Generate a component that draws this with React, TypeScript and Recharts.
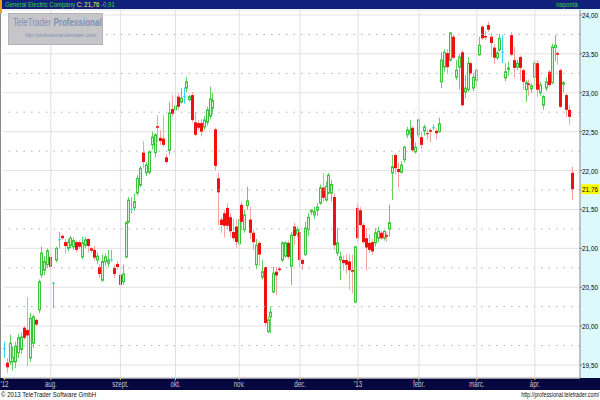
import React from 'react';
import {
  Bar,
  CartesianGrid,
  ComposedChart,
  ReferenceLine,
  XAxis,
  YAxis,
} from 'recharts';

// Daily OHLC, General Electric, Jul 2012 - Apr 2013
const opens = [
  19.71, 19.53, 19.54, 19.54, 19.54, 19.66, 19.7, 19.98, 19.95, 19.59,
  19.78, 20.08, 20.21, 20.66, 20.72, 20.79, 20.89, 20.55, 20.85, 21.11,
  21.16, 21.08, 21.0, 21.04, 21.02, 21.08, 21.08, 20.89, 21.04, 21.12,
  21.0, 20.98, 20.85, 20.76, 20.59, 20.83, 20.81, 20.85, 20.75, 20.8,
  20.66, 20.57, 20.89, 21.34, 21.5, 21.52, 21.71, 21.81, 22.23, 21.97,
  21.98, 22.33, 22.23, 22.57, 22.42, 22.41, 22.17, 22.26, 22.79, 22.78,
  22.95, 22.88, 22.95, 23.06, 22.91, 22.97, 22.62, 22.61, 22.61, 22.56,
  22.62, 22.7, 22.8, 22.53, 21.9, 21.37, 21.45, 21.52, 21.4, 21.21,
  21.28, 21.06, 21.56, 21.24, 21.55, 21.37, 21.2, 20.79, 21.07, 20.63,
  20.76, 19.93, 20.12, 20.44, 20.7, 20.74, 20.85, 20.9, 21.07, 20.77,
  21.28, 21.19, 21.21, 20.85, 20.92, 21.24, 21.47, 21.43, 21.49, 21.58,
  21.78, 21.62, 21.71, 21.71, 21.66, 20.94, 20.85, 20.85, 20.85, 20.83,
  20.72, 20.31, 21.52, 21.49, 21.3, 21.13, 21.07, 21.08, 21.07, 21.13,
  21.2, 21.13, 21.17, 21.25, 21.97, 22.2, 22.02, 21.98, 22.14, 22.46,
  22.48, 22.55, 22.24, 22.46, 22.43, 22.51, 22.48, 22.52, 22.55, 22.51,
  22.5, 23.14, 23.33, 23.51, 23.42, 23.72, 23.2, 23.33, 23.52, 23.01,
  23.04, 23.38, 23.06, 23.16, 23.49, 23.85, 23.73, 23.87, 23.72, 23.58,
  23.45, 23.55, 23.52, 23.19, 23.3, 23.74, 23.42, 23.33, 23.46, 23.29,
  23.04, 23.12, 23.05, 23.2, 23.38, 23.0, 22.84, 23.06, 23.27, 23.13,
  23.58, 23.51, 23.29, 23.11, 22.97, 22.78, 21.97,
];

const highs = [
  19.8, 19.59, 19.89, 19.74, 19.8, 19.9, 19.92, 20.0, 20.37, 20.17,
  20.15, 20.1, 20.6, 21.02, 20.9, 21.0, 20.93, 20.57, 21.02, 21.21,
  21.18, 21.12, 21.12, 21.16, 21.14, 21.1, 21.1, 21.15, 21.14, 21.13,
  21.02, 21.03, 20.95, 20.8, 20.92, 20.93, 20.98, 20.98, 20.79, 20.84,
  20.7, 20.79, 21.35, 21.66, 21.66, 21.7, 21.94, 22.06, 22.38, 22.11,
  22.26, 22.5, 22.48, 22.71, 22.52, 22.71, 22.21, 22.88, 22.97, 23.01,
  22.99, 23.06, 23.07, 23.2, 22.97, 23.01, 22.75, 22.65, 22.66, 22.7,
  22.82, 23.08, 23.0, 22.55, 21.97, 21.4, 21.49, 21.58, 21.45, 21.38,
  21.37, 21.41, 21.6, 21.5, 21.79, 21.54, 21.24, 21.12, 21.09, 20.85,
  20.76, 20.12, 20.25, 20.76, 20.76, 20.76, 21.09, 21.09, 21.1, 21.21,
  21.33, 21.28, 21.26, 20.87, 21.34, 21.45, 21.5, 21.53, 21.58, 21.82,
  21.97, 21.86, 21.97, 21.88, 21.71, 21.26, 20.95, 20.91, 20.93, 20.92,
  20.92, 21.02, 21.58, 21.53, 21.33, 21.26, 21.18, 21.12, 21.26, 21.28,
  21.22, 21.23, 21.2, 21.56, 22.2, 22.22, 22.1, 22.12, 22.32, 22.56,
  22.65, 22.57, 22.36, 22.67, 22.5, 22.59, 22.52, 22.54, 22.59, 22.54,
  22.68, 23.52, 23.56, 23.56, 23.78, 23.75, 23.42, 23.5, 23.55, 23.23,
  23.46, 23.4, 23.25, 23.31, 23.72, 23.87, 23.8, 23.91, 23.77, 23.63,
  23.54, 23.76, 23.74, 23.38, 23.4, 23.78, 23.59, 23.42, 23.48, 23.31,
  23.16, 23.17, 23.12, 23.42, 23.42, 23.14, 22.97, 23.2, 23.29, 23.63,
  23.74, 23.53, 23.31, 23.15, 22.99, 22.84, 22.05,
];

const lows = [
  19.59, 19.4, 19.5, 19.43, 19.46, 19.59, 19.64, 19.82, 19.48, 19.54,
  19.72, 20.0, 20.17, 20.62, 20.65, 20.75, 20.72, 20.23, 20.82, 21.0,
  21.11, 20.93, 20.96, 21.0, 20.98, 20.95, 20.99, 20.86, 21.0, 20.95,
  20.94, 20.84, 20.8, 20.62, 20.57, 20.78, 20.76, 20.83, 20.62, 20.72,
  20.51, 20.53, 20.87, 21.32, 21.45, 21.48, 21.68, 21.79, 22.03, 21.93,
  21.95, 22.27, 22.17, 22.37, 22.33, 22.31, 22.09, 22.2, 22.69, 22.74,
  22.78, 22.86, 22.86, 23.01, 22.89, 22.62, 22.44, 22.52, 22.44, 22.52,
  22.58, 22.66, 22.72, 22.0, 21.3, 21.2, 21.14, 21.25, 21.15, 21.1,
  21.01, 21.03, 21.23, 21.2, 21.49, 21.12, 20.98, 20.73, 20.77, 20.6,
  20.0, 19.91, 19.91, 20.42, 20.4, 20.7, 20.82, 20.88, 20.86, 20.53,
  21.05, 21.15, 20.75, 20.72, 20.9, 21.16, 21.43, 21.38, 21.42, 21.56,
  21.6, 21.6, 21.69, 21.6, 20.98, 20.9, 20.59, 20.72, 20.67, 20.47,
  20.42, 20.3, 21.08, 21.28, 21.06, 20.72, 20.94, 20.92, 21.02, 21.08,
  21.11, 21.1, 21.08, 21.15, 21.62, 21.95, 21.78, 21.96, 22.1, 22.42,
  22.42, 22.24, 22.22, 22.42, 22.28, 22.45, 22.4, 22.36, 22.52, 22.4,
  22.49, 23.06, 23.27, 23.24, 23.4, 23.43, 23.16, 23.04, 22.82, 22.93,
  23.01, 23.23, 23.02, 23.08, 23.47, 23.68, 23.68, 23.78, 23.46, 23.37,
  23.42, 23.53, 23.38, 23.15, 23.22, 23.47, 23.19, 23.29, 23.16, 23.04,
  22.88, 22.96, 23.0, 23.09, 22.95, 22.96, 22.78, 23.02, 23.08, 23.11,
  23.4, 23.36, 22.8, 23.0, 22.69, 22.59, 21.62,
];

const closes = [
  19.71, 19.47, 19.78, 19.6, 19.74, 19.85, 19.86, 19.85, 19.88, 20.1,
  20.12, 20.02, 20.57, 20.94, 20.83, 20.97, 20.76, 20.55, 21.0, 21.11,
  21.13, 21.03, 21.08, 21.13, 21.1, 20.98, 21.02, 21.07, 21.11, 21.03,
  20.97, 20.88, 20.9, 20.67, 20.83, 20.89, 20.85, 20.85, 20.67, 20.76,
  20.53, 20.67, 21.33, 21.62, 21.5, 21.6, 21.9, 22.03, 22.11, 22.07,
  22.24, 22.43, 22.46, 22.55, 22.38, 22.33, 22.11, 22.74, 22.73, 22.83,
  22.82, 22.93, 22.95, 23.14, 22.95, 22.65, 22.46, 22.55, 22.5, 22.65,
  22.78, 22.92, 22.9, 22.06, 21.72, 21.3, 21.29, 21.29, 21.22, 21.13,
  21.08, 21.37, 21.34, 21.43, 21.61, 21.2, 21.08, 21.04, 20.92, 20.7,
  20.04, 20.08, 20.18, 20.68, 20.65, 20.72, 21.07, 21.07, 20.89, 21.17,
  21.16, 21.24, 20.85, 20.8, 21.26, 21.4, 21.49, 21.47, 21.53, 21.78,
  21.65, 21.8, 21.94, 21.82, 21.04, 21.07, 20.89, 20.81, 20.79, 20.72,
  20.7, 21.02, 21.13, 21.3, 21.08, 21.01, 20.98, 20.96, 21.2, 21.22,
  21.13, 21.22, 21.15, 21.33, 22.05, 22.03, 21.98, 22.07, 22.3, 22.52,
  22.52, 22.26, 22.3, 22.65, 22.33, 22.56, 22.47, 22.5, 22.55, 22.48,
  22.6, 23.42, 23.52, 23.33, 23.77, 23.45, 23.29, 23.46, 22.84, 23.06,
  23.38, 23.25, 23.2, 23.29, 23.61, 23.7, 23.71, 23.81, 23.64, 23.45,
  23.51, 23.7, 23.52, 23.27, 23.32, 23.49, 23.32, 23.38, 23.32, 23.14,
  23.13, 23.1, 23.09, 23.38, 23.04, 23.1, 22.95, 23.14, 23.1, 23.59,
  23.61, 23.49, 22.82, 23.13, 22.78, 22.69, 21.76,
];

// first trading day of each month (index into the arrays above)
const monthTicks = [0, 16, 40, 59, 81, 102, 122, 143, 163, 183];
const monthLabels = ["'12", 'aug.', 'szept.', 'okt.', 'nov.', 'dec.', "'13", 'febr.', 'márc.', 'ápr.'];

const priceTicks = [19.5, 20, 20.5, 21, 21.5, 22, 22.5, 23, 23.5, 24];
const quarterLines = [19.75, 20.25, 20.75, 21.25, 21.75, 22.25, 22.75, 23.25, 23.75];

const NAVY = '#11207a';
const BAND = '#07073f';
const FONT = '"Liberation Sans", Arial, sans-serif';

const data = opens.map((o, i) => ({
  i,
  open: o,
  high: highs[i],
  low: lows[i],
  close: closes[i],
}));

const lastClose = closes[closes.length - 1];

const fmt = (v: number) => v.toFixed(2).replace('.', ',');

// narrow look of the original terminal font
const squeeze = (sx: number, origin = 'left'): React.CSSProperties => ({
  display: 'inline-block',
  transform: `scaleX(${sx})`,
  transformOrigin: `${origin} center`,
  whiteSpace: 'nowrap',
});

// Candle drawn from the [low, high] bar the library positions for us
const Candle = (props: any) => {
  const { x, y, width, height, payload } = props;
  if (!payload || height == null) return null;
  const { open, close, high, low } = payload;
  const ppu = high > low ? height / (high - low) : 0;
  const yOf = (v: number) => y + (high - v) * ppu;
  const left = Math.round(x + width / 2 - 1.5);
  const cx = left + 1.5;

  if (open === close) {
    return (
      <g>
        <line x1={cx} x2={cx} y1={y} y2={y + height} stroke="#2fd8f5" />
        <line x1={left} x2={left + 3} y1={yOf(open)} y2={yOf(open)} stroke="#2fd8f5" />
      </g>
    );
  }

  const top = yOf(Math.max(open, close));
  const bottom = yOf(Math.min(open, close));

  if (close > open) {
    return (
      <g>
        <line x1={cx} x2={cx} y1={y} y2={y + height} stroke="#5fd35f" />
        <rect
          x={left + 0.5}
          y={top}
          width={2}
          height={Math.max(bottom - top, 1)}
          fill="#d2f5d2"
          stroke="#3cc43c"
          strokeWidth={1}
        />
      </g>
    );
  }

  return (
    <g>
      <line x1={cx} x2={cx} y1={y} y2={y + height} stroke="#f6a3a3" />
      <rect x={left} y={top} width={3} height={Math.max(bottom - top, 1)} fill="#f01010" />
    </g>
  );
};

const PriceTick = (props: any) => {
  const { x, y, payload } = props;
  return (
    <g transform={`translate(${x},${y + 3})`}>
      <text transform="scale(0.8,1)" fontSize={8} fill="#000" fontFamily={FONT}>
        {fmt(payload.value)}
      </text>
    </g>
  );
};

const MonthTick = (props: any) => {
  const { x, y, payload } = props;
  const label = monthLabels[monthTicks.indexOf(payload.value)] ?? '';
  return (
    <g transform={`translate(${x},${y + 7})`}>
      <text transform="scale(0.72,1)" textAnchor="middle" fontSize={8.5} fill="#c6c6d0" fontFamily={FONT}>
        {label}
      </text>
    </g>
  );
};

const LastPriceLabel = (props: any) => {
  const { viewBox } = props;
  if (!viewBox) return null;
  const lx = viewBox.x + viewBox.width + 1;
  return (
    <g>
      <rect x={lx} y={viewBox.y - 5} width={18} height={10} fill="#ffff00" />
      <g transform={`translate(${lx + 1},${viewBox.y + 3})`}>
        <text transform="scale(0.8,1)" fontSize={8} fill="#000" fontFamily={FONT}>
          {fmt(lastClose)}
        </text>
      </g>
    </g>
  );
};

export default function App() {
  return (
    <div
      style={{
        position: 'absolute',
        left: 0,
        top: 0,
        width: 600,
        height: 400,
        background: '#fff',
        overflow: 'hidden',
        fontFamily: FONT,
      }}
    >
      {/* header */}
      <div
        style={{
          position: 'absolute',
          left: 0,
          top: 0,
          width: 600,
          height: 9,
          background: NAVY,
          fontSize: 8,
          lineHeight: '9px',
          whiteSpace: 'nowrap',
        }}
      >
        <span style={{ ...squeeze(0.75), position: 'absolute', left: 5, color: '#3bd43b' }}>
          General Electric Company <span style={{ color: '#f4f43a' }}>C: 21,76</span> -0,91
        </span>
        <span style={{ ...squeeze(0.75, 'right'), position: 'absolute', right: 22, color: '#3bd43b' }}>naponta</span>
      </div>
      <div style={{ position: 'absolute', left: 0, top: 0, width: 2, height: 13, background: '#f29a1c' }} />
      <div style={{ position: 'absolute', left: 0, top: 13, width: 1, height: 365, background: '#8a8a8a' }} />

      {/* right axis background */}
      <div style={{ position: 'absolute', left: 580, top: 9, width: 20, height: 369, background: '#def9fb' }} />
      {/* date band */}
      <div style={{ position: 'absolute', left: 0, top: 378, width: 600, height: 12, background: BAND }} />

      <div style={{ position: 'absolute', left: 0, top: 0 }}>
        <ComposedChart
          width={600}
          height={400}
          data={data}
          margin={{ top: 10, right: 0, bottom: 10, left: 3 }}
          barCategoryGap={0}
        >
          <CartesianGrid horizontal vertical={false} stroke="#e6e0e6" />
          <XAxis
            dataKey="i"
            type="category"
            ticks={monthTicks}
            interval={0}
            height={12}
            padding={{ left: 0, right: 6 }}
            tick={<MonthTick />}
            tickSize={2}
            tickMargin={0}
            tickLine={{ stroke: '#e0d040' }}
            axisLine={{ stroke: '#b8b8b8' }}
          />
          <YAxis
            orientation="right"
            width={20}
            domain={[19.333, 24.064]}
            ticks={priceTicks}
            allowDataOverflow
            interval={0}
            tick={<PriceTick />}
            tickSize={2}
            tickMargin={0}
            tickLine={{ stroke: '#777' }}
            axisLine={{ stroke: '#888' }}
          />
          {quarterLines.map((v) => (
            <ReferenceLine key={`q${v}`} y={v} stroke="#b0b0b0" strokeDasharray="1.5 6" />
          ))}
          {monthTicks.slice(1).map((t) => (
            <ReferenceLine key={`m${t}`} x={t} stroke="#e2dde4" />
          ))}
          <ReferenceLine y={lastClose} stroke="none" label={<LastPriceLabel />} />
          <Bar
            dataKey={(d: any) => [d.low, d.high]}
            barSize={3}
            shape={<Candle />}
            isAnimationActive={false}
          />
        </ComposedChart>
      </div>

      {/* watermark */}
      <div
        style={{
          position: 'absolute',
          left: 8,
          top: 13,
          width: 95,
          height: 32,
          background: '#c6c6c8',
          border: '1px solid #b4b4b8',
          boxSizing: 'border-box',
          color: '#7f8fb8',
          whiteSpace: 'nowrap',
        }}
      >
        <div style={{ ...squeeze(0.7), position: 'absolute', left: 4, top: 2, fontSize: 11.5, lineHeight: '13px' }}>
          TeleTrader <b>Professional</b>
        </div>
        <div style={{ ...squeeze(0.8), position: 'absolute', left: 16, top: 18, fontSize: 6, lineHeight: '7px', fontStyle: 'italic' }}>
          http://professional.teletrader.com/
        </div>
      </div>

      {/* footer */}
      <div style={{ ...squeeze(0.76), position: 'absolute', left: 1, top: 390, fontSize: 8, lineHeight: '10px', color: '#111' }}>
        © 2013 TeleTrader Software GmbH
      </div>
      <div style={{ ...squeeze(0.66, 'right'), position: 'absolute', right: 1, top: 390, fontSize: 8, lineHeight: '10px', color: '#111' }}>
        http://professional.teletrader.com/
      </div>
    </div>
  );
}
